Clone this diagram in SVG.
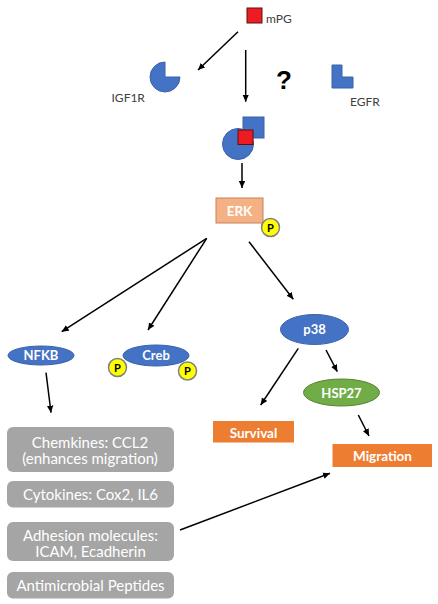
<svg xmlns="http://www.w3.org/2000/svg" width="438" height="604" viewBox="0 0 438 604">
<style>
text{font-family:Lato,"Liberation Sans",sans-serif}
.lbl{font-size:12px;fill:#404040}
.wt{fill:#fff;font-weight:bold;text-anchor:middle}
.blue{fill:#4472C4;stroke:#3A62A8;stroke-width:1}
.grey{fill:#A5A5A5}
.gt{fill:#fff;font-size:15px;text-anchor:middle}
.orange{fill:#ED7D31}
.pc{fill:#FFFF00;stroke:#808080;stroke-width:1.5}
.pt{font-size:11px;font-weight:bold;fill:#000;text-anchor:middle}
.conn line{stroke:#000;stroke-width:1.5;marker-end:url(#ah)}
</style>
<defs>
<marker id="ah" markerWidth="8" markerHeight="8" refX="7" refY="4" orient="auto" markerUnits="userSpaceOnUse">
<path d="M0,0.8 L7,4 L0,7.2 Z" fill="#000"/>
</marker>
</defs>
<rect width="438" height="604" fill="#fff"/>

<g id="mPG">
<rect x="247" y="8" width="15" height="15" fill="#ED1C24" stroke="#5a1010" stroke-width="1"/>
<text x="266" y="22.5" class="lbl">mPG</text>
</g>

<g id="IGF1R">
<path d="M165,77 L180,77 A15,15 0 1,1 165,62 Z" class="blue"/>
<text x="111.5" y="101.5" class="lbl">IGF1R</text>
</g>

<g id="question">
<text x="284" y="89" style="font-family:'Liberation Sans',sans-serif;font-size:26px;font-weight:bold;fill:#000;text-anchor:middle">?</text>
</g>

<g id="EGFR">
<path d="M332,65 L342,65 L342,77 L353,77 L353,88 L332,88 Z" class="blue"/>
<text x="350" y="106" class="lbl">EGFR</text>
</g>

<g id="complex">
<rect x="243" y="117" width="21" height="21" class="blue"/>
<circle cx="238" cy="144" r="15.5" class="blue"/>
<rect x="238" y="130" width="15" height="14.5" fill="#ED1C24" stroke="#5a1010" stroke-width="1"/>
</g>

<g id="ERK">
<rect x="216" y="198" width="47" height="25" fill="#F4B183" stroke="#C9825A" stroke-width="1"/>
<text x="239.5" y="215.5" class="wt" style="font-size:13.5px">ERK</text>
<circle cx="270.5" cy="227.5" r="9" class="pc"/>
<text x="270.5" y="231.5" class="pt">P</text>
</g>

<g id="NFKB">
<ellipse cx="41" cy="355.5" rx="33" ry="9.5" class="blue"/>
<text x="41" y="360" class="wt" style="font-size:13px">NFKB</text>
</g>

<g id="Creb">
<ellipse cx="156" cy="355.5" rx="33" ry="10.5" class="blue"/>
<text x="156" y="360" class="wt" style="font-size:13px">Creb</text>
<circle cx="117.5" cy="367.5" r="9" class="pc"/>
<text x="117.5" y="371.5" class="pt">P</text>
<circle cx="187.5" cy="371" r="9" class="pc"/>
<text x="187.5" y="375" class="pt">P</text>
</g>

<g id="p38">
<ellipse cx="314.5" cy="329.5" rx="34" ry="15" class="blue"/>
<text x="314.5" y="334" class="wt" style="font-size:13px">p38</text>
</g>

<g id="HSP27">
<ellipse cx="341.5" cy="392.5" rx="38" ry="13.5" fill="#70AD47" stroke="#548235" stroke-width="1"/>
<text x="341.5" y="397.5" class="wt" style="font-size:13px">HSP27</text>
</g>

<g id="Survival">
<rect x="213" y="421" width="81" height="21.5" class="orange"/>
<text x="253.5" y="437.5" class="wt" style="font-size:13.5px">Survival</text>
</g>

<g id="Migration">
<rect x="332.5" y="444" width="99.5" height="23" class="orange"/>
<text x="382.5" y="460.5" class="wt" style="font-size:13.5px">Migration</text>
</g>

<g id="chemokines">
<rect x="7" y="427" width="167" height="45" rx="6" class="grey"/>
<text x="90" y="447.5" class="gt">Chemkines: CCL2</text>
<text x="90" y="464" class="gt">(enhances migration)</text>
</g>

<g id="cytokines">
<rect x="7" y="481" width="167" height="26.5" rx="6" class="grey"/>
<text x="90.5" y="499.5" class="gt">Cytokines: Cox2, IL6</text>
</g>

<g id="adhesion">
<rect x="7" y="522" width="167" height="39" rx="6" class="grey"/>
<text x="90.5" y="540.5" class="gt">Adhesion molecules:</text>
<text x="90.5" y="557" class="gt">ICAM, Ecadherin</text>
</g>

<g id="antimicrobial">
<rect x="7" y="572" width="167" height="26.5" rx="6" class="grey"/>
<text x="90.5" y="591" class="gt">Antimicrobial Peptides</text>
</g>

<g id="connectors" class="conn">
<line x1="238" y1="31.7" x2="198" y2="70"/>
<line x1="245.7" y1="50" x2="245.7" y2="101.7"/>
<line x1="242" y1="163" x2="242" y2="188"/>
<line x1="206.7" y1="238.3" x2="61.7" y2="331.7"/>
<line x1="206.7" y1="238.3" x2="148" y2="330"/>
<line x1="249" y1="241.7" x2="293.3" y2="299.3"/>
<line x1="46" y1="372.7" x2="51" y2="412.7"/>
<line x1="298.3" y1="348.3" x2="260.7" y2="405"/>
<line x1="326" y1="350" x2="337.3" y2="371.7"/>
<line x1="358.3" y1="415" x2="369" y2="436"/>
<line x1="180" y1="530" x2="330" y2="473.3"/>
</g>
</svg>
